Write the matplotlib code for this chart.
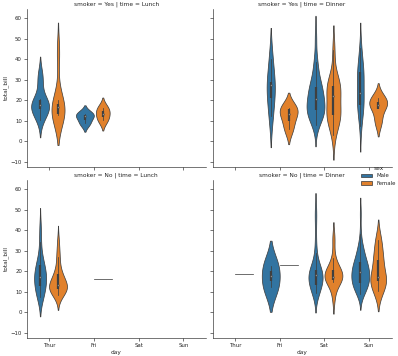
import colorsys
import numpy as np
import matplotlib
matplotlib.use("Agg")
import matplotlib.pyplot as plt
from matplotlib.patches import Patch

# ---------------- data (total_bill per smoker / time / day / sex) ----------------
days = ["Thur", "Fri", "Sat", "Sun"]
sexes = ["Male", "Female"]
smokers = ["Yes", "No"]
times = ["Lunch", "Dinner"]

yes_lunch_thur_male = [19.44, 32.68, 16.00, 28.44, 15.48, 16.58, 10.34, 13.51, 18.71, 20.53]
yes_lunch_thur_female = [19.81, 43.11, 13.00, 12.74, 13.00, 16.40, 16.47]
yes_lunch_fri_male = [12.16, 8.58, 13.42]
yes_lunch_fri_female = [13.42, 16.27, 10.09]

no_lunch_thur_male = [27.20, 22.76, 17.29, 16.66, 15.98, 13.03, 18.28, 24.71, 21.16, 11.69,
                      14.26, 15.95, 8.52, 22.82, 19.08, 34.30, 41.19, 9.78, 7.51, 7.56]
no_lunch_thur_female = [10.07, 34.83, 10.65, 12.43, 24.08, 13.42, 12.48, 29.80, 14.52, 11.38,
                        20.27, 11.17, 12.26, 18.26, 8.51, 10.33, 14.15, 13.16, 17.47, 27.05,
                        16.43, 8.35, 18.64, 11.87]
no_lunch_fri_female = [15.98]

yes_dinner_fri_male = [28.97, 40.17, 27.28, 12.03, 21.01]
yes_dinner_fri_female = [5.75, 16.32, 11.35, 15.38]
yes_dinner_sat_male = [38.01, 11.24, 20.29, 13.81, 11.02, 18.29, 15.01, 17.92, 15.36, 20.49,
                       25.21, 50.81, 15.81, 26.59, 38.73, 24.27, 30.06, 25.89, 28.15, 11.59,
                       7.74, 24.01, 15.69, 15.53, 12.60, 32.83, 22.67]
yes_dinner_sat_female = [3.07, 26.86, 25.28, 44.30, 22.42, 14.31, 10.59, 10.63, 12.76, 13.27,
                         28.17, 12.90, 30.14, 22.12, 27.18]
yes_dinner_sun_male = [7.25, 31.85, 16.82, 32.90, 17.89, 14.48, 34.63, 34.65, 23.33, 45.35,
                       23.17, 40.55, 30.46, 23.10, 15.69]
yes_dinner_sun_female = [17.51, 9.60, 20.90, 18.15]

no_dinner_thur_female = [18.78]
no_dinner_fri_male = [22.49, 12.46]
no_dinner_fri_female = [22.75]
no_dinner_sat_male = [20.65, 17.92, 39.42, 19.82, 17.81, 13.37, 12.69, 21.70, 9.55, 18.35,
                      17.78, 24.06, 16.31, 18.69, 31.27, 16.04, 48.27, 17.59, 20.08, 20.23,
                      12.02, 10.51, 18.24, 14.00, 48.33, 20.45, 13.28, 11.61, 10.77, 10.07,
                      29.03, 17.82]
no_dinner_sat_female = [20.29, 15.77, 19.65, 15.06, 20.69, 16.93, 26.41, 16.45, 17.07, 14.73,
                        20.92, 7.25, 35.83]
no_dinner_sun_male = [10.34, 21.01, 23.68, 25.29, 8.77, 26.88, 15.04, 14.78, 10.27, 15.42,
                      18.43, 21.58, 16.29, 17.46, 13.94, 9.68, 30.40, 18.29, 22.23, 32.40,
                      28.55, 18.04, 12.54, 9.94, 25.56, 19.49, 38.07, 23.95, 29.93, 14.07,
                      13.13, 17.26, 24.55, 19.77, 48.17, 16.49, 21.50, 12.66, 13.81, 24.52,
                      20.76, 31.71, 20.69]
no_dinner_sun_female = [16.99, 24.59, 35.26, 14.83, 10.33, 16.97, 10.29, 34.81, 25.71, 17.31,
                        29.85, 25.00, 13.39, 16.21]

groups = {
    ("Yes", "Lunch", "Thur", "Male"): yes_lunch_thur_male,
    ("Yes", "Lunch", "Thur", "Female"): yes_lunch_thur_female,
    ("Yes", "Lunch", "Fri", "Male"): yes_lunch_fri_male,
    ("Yes", "Lunch", "Fri", "Female"): yes_lunch_fri_female,
    ("No", "Lunch", "Thur", "Male"): no_lunch_thur_male,
    ("No", "Lunch", "Thur", "Female"): no_lunch_thur_female,
    ("No", "Lunch", "Fri", "Female"): no_lunch_fri_female,
    ("Yes", "Dinner", "Fri", "Male"): yes_dinner_fri_male,
    ("Yes", "Dinner", "Fri", "Female"): yes_dinner_fri_female,
    ("Yes", "Dinner", "Sat", "Male"): yes_dinner_sat_male,
    ("Yes", "Dinner", "Sat", "Female"): yes_dinner_sat_female,
    ("Yes", "Dinner", "Sun", "Male"): yes_dinner_sun_male,
    ("Yes", "Dinner", "Sun", "Female"): yes_dinner_sun_female,
    ("No", "Dinner", "Thur", "Female"): no_dinner_thur_female,
    ("No", "Dinner", "Fri", "Male"): no_dinner_fri_male,
    ("No", "Dinner", "Fri", "Female"): no_dinner_fri_female,
    ("No", "Dinner", "Sat", "Male"): no_dinner_sat_male,
    ("No", "Dinner", "Sat", "Female"): no_dinner_sat_female,
    ("No", "Dinner", "Sun", "Male"): no_dinner_sun_male,
    ("No", "Dinner", "Sun", "Female"): no_dinner_sun_female,
}

# ---------------- style ----------------
DPI = 35.6
plt.rcParams.update({
    "font.family": ["DejaVu Sans"],
    "font.size": 12,
    "axes.titlesize": 12,
    "axes.labelsize": 12,
    "xtick.labelsize": 11,
    "ytick.labelsize": 11,
    "legend.fontsize": 11,
    "legend.title_fontsize": 12,
    "axes.linewidth": 1.25,
    "xtick.major.width": 1.25,
    "ytick.major.width": 1.25,
    "xtick.major.size": 6,
    "ytick.major.size": 6,
    "axes.edgecolor": ".15",
    "xtick.color": ".15",
    "ytick.color": ".15",
    "text.color": ".15",
    "axes.labelcolor": ".15",
})


def desat(c, prop=0.75):
    r, g, b = matplotlib.colors.to_rgb(c)
    h, l, s = colorsys.rgb_to_hls(r, g, b)
    return colorsys.hls_to_rgb(h, l, s * prop)


base_colors = ["#1f77b4", "#ff7f0e"]
colors = [desat(c) for c in base_colors]
lum = min(colorsys.rgb_to_hls(*c)[1] for c in colors) * 0.6
gray = (lum, lum, lum)
LW = 1.5
WIDTH = 0.8
dwidth = WIDTH / (2 * len(sexes))
offsets = np.array([-WIDTH / 4, WIDTH / 4])


def kde(vals, cut=2, gridsize=100):
    x = np.asarray(vals, float)
    n = x.size
    bw = n ** (-1 / 5) * x.std(ddof=1)
    support = np.linspace(x.min() - cut * bw, x.max() + cut * bw, gridsize)
    z = (support[:, None] - x[None, :]) / bw
    dens = np.exp(-0.5 * z ** 2).sum(1) / (n * bw * np.sqrt(2 * np.pi))
    return support, dens


fig = plt.figure(figsize=(398 / DPI, 356 / DPI), dpi=DPI)
lefts = [0.067, 0.534]
bottoms = [0.531, 0.0506]
W, H = 0.45, 0.445

axes = [[None, None], [None, None]]
for r in range(2):
    for c in range(2):
        axes[r][c] = fig.add_axes([lefts[c], bottoms[r], W, H])

ymin, ymax = np.inf, -np.inf
for r, smk in enumerate(smokers):
    for c, tm in enumerate(times):
        ax = axes[r][c]
        for i, day in enumerate(days):
            info = []
            for j, sx in enumerate(sexes):
                vals = groups.get((smk, tm, day, sx), [])
                if len(vals) == 0:
                    info.append(None)
                elif len(vals) == 1:
                    info.append(("single", vals[0]))
                else:
                    s, d = kde(vals)
                    info.append(("kde", s, d, vals))
            peaks = [it[2].max() for it in info if it is not None and it[0] == "kde"]
            maxd = max(peaks) if peaks else 1.0
            for j, it in enumerate(info):
                if it is None:
                    continue
                center = i + offsets[j]
                if it[0] == "single":
                    v = it[1]
                    ax.plot([center - dwidth, center + dwidth], [v, v], color=gray, lw=LW)
                    ymin, ymax = min(ymin, v), max(ymax, v)
                    continue
                _, s, d, vals = it
                dn = d / maxd
                ax.fill_betweenx(s, center - dn * dwidth, center + dn * dwidth,
                                 facecolor=colors[j], edgecolor=gray, linewidth=LW)
                ymin, ymax = min(ymin, s.min()), max(ymax, s.max())
                arr = np.asarray(vals)
                q25, q50, q75 = np.percentile(arr, [25, 50, 75])
                wl = 1.5 * (q75 - q25)
                h1 = arr[arr >= q25 - wl].min()
                h2 = arr[arr <= q75 + wl].max()
                ax.plot([center, center], [h1, h2], color=gray, lw=LW)
                ax.plot([center, center], [q25, q75], color=gray, lw=LW * 3,
                        solid_capstyle="butt")
                ax.scatter([center], [q50], zorder=3, color="white", edgecolor=gray,
                           s=(LW * 2) ** 2, linewidth=LW)
        ax.set_title(f"smoker = {smk} | time = {tm}")

rng = ymax - ymin
for r in range(2):
    for c in range(2):
        ax = axes[r][c]
        ax.set_xlim(-0.5, len(days) - 0.5)
        ax.set_ylim(ymin - 0.05 * rng, ymax + 0.05 * rng)
        ax.set_yticks(np.arange(-10, 61, 10))
        ax.set_xticks(range(len(days)))
        ax.spines["top"].set_visible(False)
        ax.spines["right"].set_visible(False)
        if r == 1:
            ax.set_xticklabels(days)
            ax.set_xlabel("day")
        else:
            ax.set_xticklabels([])
        if c == 0:
            ax.set_ylabel("total_bill")
        else:
            ax.set_yticklabels([])

handles = [Patch(facecolor=colors[j], edgecolor=gray, linewidth=LW, label=sexes[j])
           for j in range(len(sexes))]
fig.legend(handles=handles, title="sex", loc="center left",
           bbox_to_anchor=(0.895, 0.506), frameon=False)

fig.savefig("out.png", dpi=DPI)
